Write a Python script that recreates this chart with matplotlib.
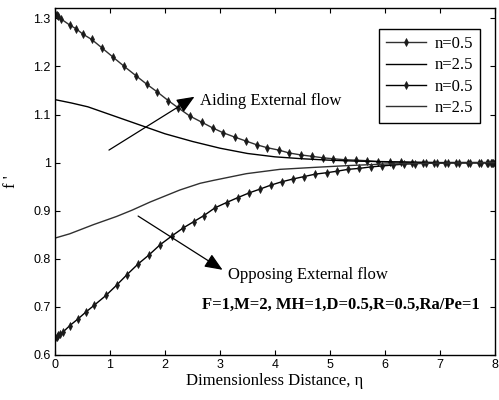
import matplotlib
matplotlib.use("Agg")
import matplotlib.pyplot as plt

# Aiding external flow, n=0.5 (with markers)
x_aid_05 = [0, 0.03, 0.06, 0.12, 0.27, 0.39, 0.51, 0.67, 0.85, 1.05, 1.25, 1.47, 1.67,
            1.86, 2.06, 2.24, 2.45, 2.67, 2.87, 3.06, 3.27, 3.47, 3.67, 3.86, 4.07, 4.26,
            4.47, 4.68, 4.87, 5.06, 5.27, 5.48, 5.67, 5.88, 6.09, 6.3, 6.5, 6.7, 6.9, 7.1,
            7.3, 7.5, 7.7, 7.85, 7.93, 7.97, 8.0]
y_aid_05 = [1.308, 1.306, 1.304, 1.298, 1.286, 1.278, 1.267, 1.256, 1.239, 1.220, 1.201, 1.181, 1.163,
            1.147, 1.129, 1.114, 1.097, 1.084, 1.072, 1.062, 1.053, 1.045, 1.037, 1.031, 1.026, 1.020,
            1.016, 1.013, 1.010, 1.008, 1.006, 1.005, 1.004, 1.002, 1.001, 1.001, 1.000, 1.000, 1.000, 1.000,
            1.000, 1.000, 1.000, 1.000, 1.000, 1.000, 1.000]

# Aiding external flow, n=2.5
x_aid_25 = [0, 0.3, 0.6, 1.0, 1.5, 2.0, 2.5, 3.0, 3.5, 4.0, 4.5, 5.0, 5.5, 6.0, 7.0, 8.0]
y_aid_25 = [1.131, 1.124, 1.116, 1.100, 1.080, 1.060, 1.044, 1.030, 1.019, 1.012, 1.008, 1.005,
            1.003, 1.002, 1.000, 1.000]

# Opposing external flow, n=0.5 (with markers)
x_opp_05 = [0, 0.03, 0.06, 0.1, 0.15, 0.27, 0.42, 0.56, 0.71, 0.93, 1.12, 1.31, 1.51, 1.71,
            1.91, 2.12, 2.33, 2.52, 2.71, 2.91, 3.12, 3.32, 3.53, 3.73, 3.92, 4.12, 4.33, 4.53,
            4.73, 4.94, 5.12, 5.33, 5.53, 5.74, 5.94, 6.15, 6.35, 6.55, 6.75, 6.95, 7.15, 7.35,
            7.55, 7.75, 7.88, 7.95, 8.0]
y_opp_05 = [0.636, 0.638, 0.641, 0.644, 0.648, 0.661, 0.675, 0.689, 0.703, 0.724, 0.745, 0.767, 0.789, 0.808,
            0.829, 0.847, 0.864, 0.877, 0.890, 0.906, 0.917, 0.927, 0.937, 0.945, 0.953, 0.960, 0.966, 0.971,
            0.976, 0.979, 0.982, 0.986, 0.988, 0.991, 0.993, 0.995, 0.997, 0.998, 0.999, 0.999, 1.000, 1.000,
            1.000, 1.000, 1.000, 1.000, 1.000]

# Opposing external flow, n=2.5
x_opp_25 = [0, 0.27, 0.7, 1.12, 1.4, 1.73, 2.27, 2.64, 2.88, 3.48, 4.09, 4.70, 5.36, 6.0, 7.0, 8.0]
y_opp_25 = [0.843, 0.852, 0.871, 0.888, 0.901, 0.918, 0.943, 0.957, 0.963, 0.977, 0.986, 0.990,
            0.994, 0.997, 0.999, 1.000]

legend_labels = ["n=0.5", "n=2.5", "n=0.5", "n=2.5"]
x_ticks = [0, 1, 2, 3, 4, 5, 6, 7, 8]
y_ticks = [0.6, 0.7, 0.8, 0.9, 1.0, 1.1, 1.2, 1.3]

serif = "Liberation Serif"
sans = "Liberation Sans"

fig = plt.figure(figsize=(4.99, 4.0), dpi=100)
ax = fig.add_axes([0.110, 0.1125, 0.882, 0.8667])

mk = dict(marker="d", ms=3.6, mfc="#1a1a1a", mec="#1a1a1a", mew=0.5)
ax.plot(x_aid_05, y_aid_05, color="#303030", lw=1.0, label=legend_labels[0], **mk)
ax.plot(x_aid_25, y_aid_25, color="black", lw=1.0, label=legend_labels[1])
ax.plot(x_opp_05, y_opp_05, color="black", lw=1.0, label=legend_labels[2], **mk)
ax.plot(x_opp_25, y_opp_25, color="#303030", lw=1.0, label=legend_labels[3])

ax.set_xlim(0, 8)
ax.set_ylim(0.6, 1.3208)
ax.set_xticks(x_ticks)
ax.set_yticks(y_ticks)
ax.set_xticklabels([f"{v:g}" for v in x_ticks], fontfamily=sans, fontsize=9)
ax.set_yticklabels([f"{v:g}" for v in y_ticks], fontfamily=sans, fontsize=9)
ax.tick_params(direction="in", top=True, right=True, length=3.5, width=0.8, pad=3)
for s in ax.spines.values():
    s.set_linewidth(1.0)

ax.set_xlabel("Dimensionless Distance, η", fontfamily=serif, fontsize=12, labelpad=1)
ax.set_ylabel("f '", fontfamily=serif, fontsize=12, labelpad=10)

ax.annotate("", xy=(2.58, 1.14), xytext=(0.94, 1.023),
            arrowprops=dict(arrowstyle="-|>,head_length=0.6,head_width=0.25", color="black", lw=0.9,
                            mutation_scale=18))
ax.text(2.63, 1.129, "Aiding External flow", fontfamily=serif, fontsize=12, va="center", ha="left")

ax.annotate("", xy=(3.09, 0.774), xytext=(1.47, 0.892),
            arrowprops=dict(arrowstyle="-|>,head_length=0.6,head_width=0.25", color="black", lw=0.9,
                            mutation_scale=18))
ax.text(3.15, 0.767, "Opposing External flow", fontfamily=serif, fontsize=12, va="center", ha="left")

ax.text(0.966, 0.144, "F=1,M=2, MH=1,D=0.5,R=0.5,Ra/Pe=1", transform=ax.transAxes,
        fontfamily=serif, fontsize=12, fontweight="bold", ha="right", va="center")

leg = ax.legend(loc="upper right", bbox_to_anchor=(0.966, 0.94), prop={"family": serif, "size": 12},
                frameon=True, fancybox=False, edgecolor="black", framealpha=1, numpoints=1,
                handlelength=2.4, labelspacing=0.32, borderpad=0.42, handletextpad=0.5,
                borderaxespad=0.0)
leg.get_frame().set_linewidth(1.0)

fig.savefig("out.png", dpi=100)
